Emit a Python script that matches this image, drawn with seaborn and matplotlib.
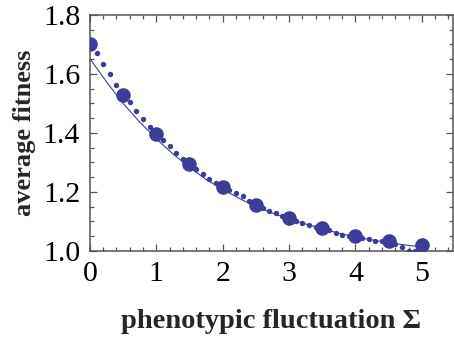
import matplotlib

matplotlib.use("Agg")

import matplotlib.pyplot as plt
from matplotlib.ticker import MultipleLocator
import pandas as pd
import seaborn as sns

# simulation (large dots), every 0.5
sim_sigma = [0.0, 0.5, 1.0, 1.5, 2.0, 2.5, 3.0, 3.5, 4.0, 4.5, 5.0]
sim_fitness = [1.701, 1.529, 1.397, 1.294, 1.218, 1.155, 1.111, 1.076, 1.049, 1.033, 1.020]

# approximation (small dots), every 0.1
approx_sigma = [round(0.1 * i, 1) for i in range(51)]
approx_fitness = [
    1.700, 1.670, 1.633, 1.598, 1.563, 1.532, 1.504, 1.475, 1.447, 1.420,
    1.398, 1.376, 1.354, 1.332, 1.312, 1.294, 1.277, 1.262, 1.244, 1.230,
    1.218, 1.206, 1.196, 1.185, 1.170, 1.158, 1.146, 1.136, 1.128, 1.118,
    1.110, 1.100, 1.094, 1.086, 1.080, 1.076, 1.070, 1.060, 1.054, 1.050,
    1.049, 1.044, 1.039, 1.034, 1.032, 1.033, 1.022, 1.014, 0.999, 0.999,
    0.998,
]

# theory curve
theory_sigma = [0.0, 0.25, 0.5, 0.75, 1.0, 1.25, 1.5, 1.75, 2.0, 2.25, 2.5,
                2.75, 3.0, 3.25, 3.5, 3.75, 4.0, 4.25, 4.5, 4.75, 5.0]
theory_fitness = [1.652, 1.573, 1.500, 1.437, 1.380, 1.329, 1.283, 1.242, 1.208,
                  1.178, 1.150, 1.128, 1.108, 1.091, 1.075, 1.060, 1.047, 1.037,
                  1.028, 1.020, 1.013]

COLOR = "#3d3d99"

sns.set_theme(style="ticks")
plt.rcParams["font.family"] = ["Liberation Serif", "DejaVu Serif"]

sim_df = pd.DataFrame({"sigma": sim_sigma, "fitness": sim_fitness})
approx_df = pd.DataFrame({"sigma": approx_sigma, "fitness": approx_fitness})
theory_df = pd.DataFrame({"sigma": theory_sigma, "fitness": theory_fitness})

fig = plt.figure(figsize=(4.54, 3.39), dpi=100)
ax = fig.add_axes([0.198, 0.260, 0.800, 0.696])

sns.lineplot(data=theory_df, x="sigma", y="fitness", ax=ax, color=COLOR,
             linewidth=0.8, estimator=None, sort=True)
sns.scatterplot(data=approx_df, x="sigma", y="fitness", ax=ax, color=COLOR,
                s=15, linewidth=0, zorder=3)
sns.scatterplot(data=sim_df, x="sigma", y="fitness", ax=ax, color=COLOR,
                s=110, linewidth=0, zorder=4)

ax.set_xlim(0, 5.47)
ax.set_ylim(1.0, 1.8)
ax.xaxis.set_major_locator(MultipleLocator(1))
ax.xaxis.set_minor_locator(MultipleLocator(0.2))
ax.yaxis.set_minor_locator(MultipleLocator(0.05))
ax.set_yticks([1.0, 1.2, 1.4, 1.6, 1.8])
ax.set_yticklabels(["1.0", "1.2", "1.4", "1.6", "1.8"])

frame = "#555555"
for side in ax.spines.values():
    side.set_color(frame)
    side.set_linewidth(1.1)
ax.tick_params(which="both", direction="in", top=True, right=True,
               color=frame, width=0.9, labelsize=21.5, labelcolor="black")
ax.tick_params(which="major", length=5, pad=7)
ax.tick_params(which="minor", length=3)

ax.set_xlabel("phenotypic fluctuation Σ", fontsize=20.5, fontweight="bold",
              labelpad=16)
ax.set_ylabel("average fitness", fontsize=19, fontweight="bold", labelpad=5)

fig.savefig("out.png", dpi=100)
